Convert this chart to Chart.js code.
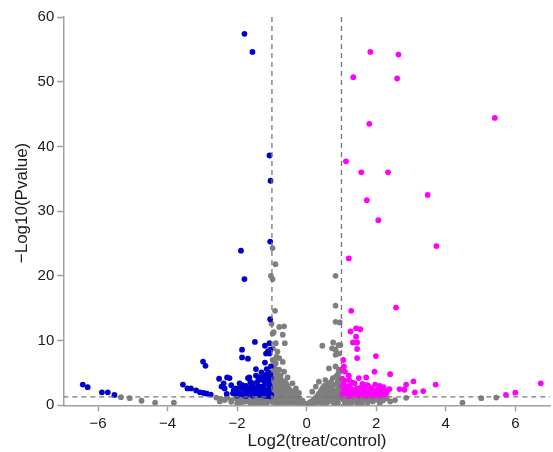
<!DOCTYPE html>
<html>
<head>
<meta charset="utf-8">
<script src="https://cdn.jsdelivr.net/npm/chart.js@4"></script>
<style>
  body { margin: 0; background: #fff; }
  canvas { display: block; }
</style>
</head>
<body>
<canvas id="volcano" width="553" height="452"></canvas>
<script>
// ejes
const xTicks = [-6, -4, -2, 0, 2, 4, 6];
const yTicks = [0, 10, 20, 30, 40, 50, 60];
const xTitle = "Log2(treat/control)";
const yTitle = "\u2212Log10(Pvalue)";

// lineas de corte
const foldCut = 1;
const pCut = 1.3;

// genes bajos (azul) [log2FC, -log10 p]
const downPoints = [
  [-1.79, 57.4], [-1.56, 54.6], [-1.07, 38.6], [-1.04, 34.7], [-1.05, 25.3], [-1.89, 23.9],
  [-1.79, 19.5], [-1.05, 13.3], [-1.49, 9.8], [-1.2, 9.2], [-1.05, 8.6], [-1.86, 8.6],
  [-1.07, 8.0], [-1.17, 8.0], [-1.86, 7.4], [-1.69, 7.2], [-2.98, 6.75], [-2.91, 6.1],
  [-1.2, 6.6], [-1.46, 5.6], [-1.09, 5.1], [-1.12, 4.4], [-1.65, 4.3], [-1.38, 4.3],
  [-1.27, 3.9], [-2.29, 4.3], [-2.22, 4.2], [-2.52, 4.1], [-2.39, 3.4], [-2.36, 2.6],
  [-2.17, 3.1], [-1.93, 3.4], [-2.03, 2.6], [-1.89, 2.8], [-1.74, 3.0], [-1.55, 3.4],
  [-1.46, 4.6], [-1.27, 4.6], [-2.12, 1.85], [-1.98, 2.1], [-1.79, 2.4], [-1.65, 2.4],
  [-1.5, 2.4], [-1.31, 2.6], [-1.12, 2.4], [-1.07, 3.1], [-1.89, 1.75], [-1.69, 1.75],
  [-1.46, 1.85], [-1.27, 1.75], [-1.09, 1.75], [-2.0, 1.5], [-1.55, 1.5], [-1.22, 1.5],
  [-1.6, 2.9], [-1.41, 2.2], [-1.69, 2.0], [-1.69, 4.2], [-1.4, 3.0], [-1.2, 3.3],
  [-1.15, 2.0], [-1.8, 1.6], [-1.35, 1.6], [-1.05, 2.7], [-1.1, 3.7], [-1.6, 1.9],
  [-1.3, 2.1], [-1.07, 9.6], [-1.12, 8.3], [-1.03, 6.0], [-1.15, 5.6], [-1.05, 4.8],
  [-1.25, 4.0], [-1.03, 4.2], [-1.18, 3.6], [-1.08, 2.2], [-1.25, 2.9], [-1.02, 1.6],
  [-1.15, 1.45], [-1.95, 2.4], [-1.85, 3.1], [-1.75, 2.2], [-1.62, 3.6], [-1.52, 2.7],
  [-1.42, 3.6], [-1.33, 2.9], [-1.22, 2.3], [-1.12, 1.9], [-1.05, 1.4], [-1.35, 1.9],
  [-1.5, 2.0], [-1.75, 1.45], [-1.95, 1.75], [-1.18, 4.7], [-1.3, 5.1], [-2.1, 2.3],
  [-2.3, 1.75], [-2.45, 2.9],
  [-6.44, 3.2], [-6.3, 2.8], [-5.89, 2.0], [-5.72, 2.0], [-5.53, 1.6], [-3.56, 3.2],
  [-3.43, 2.6], [-3.33, 2.6], [-3.18, 2.3], [-3.07, 2.0], [-2.96, 1.9], [-2.87, 1.8],
  [-2.76, 1.65]
];

// genes altos (magenta)
const upPoints = [
  [1.83, 54.6], [2.64, 54.2], [1.34, 50.7], [2.6, 50.5], [5.41, 44.4], [1.8, 43.5],
  [1.13, 37.7], [1.57, 36.0], [2.34, 36.0], [3.48, 32.5], [1.73, 31.7], [2.06, 28.6],
  [3.73, 24.6], [1.21, 22.7], [1.28, 14.6], [2.57, 15.1], [1.42, 11.9], [1.54, 11.75],
  [1.26, 11.4], [1.42, 10.6], [1.33, 9.7], [1.45, 9.7], [1.45, 8.7], [1.45, 7.3],
  [1.99, 7.6], [1.05, 7.0], [1.07, 6.0], [1.95, 5.2], [2.4, 4.8], [1.21, 4.6],
  [1.02, 4.1], [1.5, 4.2], [1.71, 4.3], [1.31, 3.5], [3.07, 3.7], [3.71, 3.2],
  [2.86, 3.2], [2.67, 2.5], [2.81, 2.4], [3.11, 2.0], [3.35, 2.2], [1.97, 3.2],
  [1.78, 2.9], [2.21, 2.8], [2.38, 2.5], [2.07, 2.5], [2.16, 2.1], [1.93, 2.3],
  [1.64, 2.4], [1.45, 2.6], [1.31, 2.4], [1.16, 2.8], [1.07, 2.4], [1.11, 1.9],
  [1.26, 1.75], [1.4, 1.9], [1.54, 1.95], [1.73, 1.9], [1.83, 1.6], [2.02, 1.75],
  [2.21, 1.6], [1.02, 1.6], [1.21, 1.45], [1.5, 1.5], [1.69, 1.45], [6.73, 3.4],
  [6.0, 1.95], [5.73, 1.6], [1.38, 3.4], [1.75, 3.1], [1.05, 3.3], [1.2, 3.0],
  [1.6, 3.3], [1.1, 5.2], [1.02, 5.6], [2.3, 1.9], [1.9, 1.45], [1.35, 2.1],
  [1.15, 2.2], [2.1, 3.0], [1.05, 1.9], [1.18, 1.7], [1.3, 1.5], [1.45, 1.7],
  [1.6, 1.65], [1.8, 2.2], [1.95, 1.6], [2.1, 1.45], [1.12, 2.5], [1.25, 2.7],
  [1.4, 2.3], [1.55, 2.7], [1.68, 3.1], [1.85, 2.6], [2.0, 2.1], [2.25, 2.2],
  [1.08, 3.8], [1.22, 3.9], [1.02, 2.9]
];

// genes sin cambio (gris)
const nsPoints = [
  [-0.98, 24.3], [-0.9, 21.8], [-1.03, 20.0], [-0.98, 19.5], [-0.91, 14.6], [-1.01, 12.6],
  [-0.95, 11.3], [-0.98, 11.1], [-0.79, 12.1], [-0.65, 12.2], [-0.69, 10.9], [-0.63, 9.6],
  [-0.89, 9.6], [-0.84, 8.3], [-0.79, 7.3], [-0.69, 6.7], [-0.89, 6.5], [-0.79, 5.5],
  [-0.65, 5.2], [-0.55, 4.3], [-0.41, 3.4], [-0.31, 2.6], [-0.22, 1.9],
  [0.83, 20.0], [0.83, 15.4], [0.83, 12.9], [0.95, 12.8], [0.45, 9.2], [0.76, 9.7],
  [0.91, 9.3], [0.73, 8.8], [0.83, 8.6], [0.83, 7.8], [0.93, 8.0], [0.64, 5.7],
  [0.83, 6.0], [0.9, 4.8], [0.35, 3.65], [0.26, 2.9], [0.16, 2.1], [0.54, 3.9],
  [0.97, 9.3],
  [-0.95, 5.0], [-0.9, 4.5], [-0.85, 4.0], [-0.75, 4.6], [-0.7, 3.8], [-0.6, 3.5],
  [-0.95, 3.6], [-0.85, 3.2], [-0.75, 3.0], [-0.65, 2.8], [-0.55, 3.0], [-0.5, 2.5],
  [-0.45, 2.2], [-0.95, 2.5], [-0.88, 2.2], [-0.8, 2.0], [-0.7, 2.3], [-0.6, 2.0],
  [-0.5, 1.8], [-0.4, 1.6], [-0.35, 2.0], [-0.3, 1.5], [-0.25, 1.2], [-0.95, 1.6],
  [-0.85, 1.4], [-0.75, 1.5], [-0.65, 1.3], [-0.55, 1.2], [-0.45, 1.0], [-0.35, 0.9],
  [-0.2, 0.8], [-0.15, 0.5], [-0.1, 0.4], [-0.05, 0.2], [0, 0.1], [0.05, 0.3],
  [0.1, 0.5], [0.15, 0.6], [0.2, 0.9], [0.25, 1.1], [0.3, 1.4], [0.35, 1.8],
  [0.4, 2.2], [0.45, 2.6], [0.5, 3.0], [0.55, 2.4], [0.6, 3.3], [0.65, 2.8],
  [0.7, 3.6], [0.75, 4.2], [0.8, 3.2], [0.85, 4.5], [0.9, 3.8], [0.95, 5.2],
  [0.95, 3.0], [0.9, 2.5], [0.8, 2.2], [0.7, 2.0], [0.6, 1.8], [0.5, 1.6],
  [0.4, 1.3], [0.3, 0.9], [0.9, 1.7], [0.8, 1.4], [0.7, 1.2], [0.6, 1.0],
  [0.5, 0.8], [0.4, 0.6], [0.3, 0.4], [0.2, 0.3], [-0.3, 0.4], [-0.4, 0.6],
  [-0.5, 0.7], [-0.6, 0.8], [-0.7, 0.9], [-0.8, 1.0], [-0.9, 1.1], [-0.6, 0.4],
  [-0.8, 0.5], [-0.9, 0.3], [0.6, 0.5], [0.8, 0.6], [0.9, 0.4], [-0.2, 0.2],
  [0.1, 0.15], [-0.92, 5.8], [-0.85, 5.3], [-0.97, 4.2], [-0.82, 3.6], [-0.72, 3.3],
  [-0.62, 2.5], [-0.98, 7.0], [-0.93, 6.9], [-0.87, 7.5], [-0.97, 8.8], [-0.92, 3.0],
  [-0.78, 2.6], [-0.68, 1.7], [-0.58, 1.5], [-0.48, 1.4], [-0.38, 1.2], [-0.28, 1.0],
  [-0.18, 0.6], [-0.08, 0.3], [0.08, 0.25], [0.18, 0.45], [0.28, 0.7], [0.38, 1.0],
  [0.48, 1.2], [0.58, 1.4], [0.68, 1.6], [0.78, 1.8], [0.88, 2.0], [0.98, 2.3],
  [0.98, 1.2], [0.88, 0.9], [0.78, 0.3], [0.68, 0.7], [0.55, 0.2], [0.45, 0.3],
  [-0.45, 0.3], [-0.55, 0.5], [-0.65, 0.6], [-0.75, 0.2], [-0.85, 0.8], [-0.95, 0.6],
  [-0.98, 0.9], [-0.92, 1.9], [-0.82, 2.8], [-0.78, 3.9], [-0.88, 4.8], [-0.98, 3.2],
  [0.98, 4.0], [0.92, 5.5], [0.88, 3.4], [0.72, 2.6], [0.62, 2.3], [0.52, 1.9],
  [0.42, 1.6], [0.32, 1.2], [0.22, 0.7], [-0.12, 0.7], [-0.22, 1.1], [-0.32, 1.4],
  [-0.42, 1.8], [-0.52, 2.1], [-0.62, 2.9], [-0.72, 2.6],
  [-2.6, 1.2], [-2.46, 1.0], [-2.36, 0.8], [-2.17, 0.55], [-2.17, 0.8], [-1.98, 0.9],
  [-1.9, 0.4], [-1.79, 0.55], [-1.7, 1.1], [-1.6, 0.8], [-1.5, 0.3], [-1.41, 0.5],
  [-1.35, 1.0], [-1.22, 0.8], [-1.15, 0.3], [-1.1, 1.1], [-1.05, 0.6], [-1.3, 0.15],
  [-1.6, 0.2], [-2.0, 0.3], [-1.85, 1.2], [-1.45, 1.25], [-1.2, 1.2], [-2.3, 1.15],
  [-2.05, 1.1], [-1.55, 0.95], [-1.25, 0.5], [-1.65, 0.5], [-1.95, 0.6], [-1.75, 0.9],
  [-1.55, 0.6], [-1.35, 0.4], [-1.15, 0.9], [-1.05, 1.2], [-2.5, 0.6],
  [1.05, 0.9], [1.1, 0.3], [1.16, 0.8], [1.2, 1.2], [1.3, 0.5], [1.35, 1.0],
  [1.45, 0.2], [1.5, 0.7], [1.59, 0.05], [1.64, 0.8], [1.7, 1.1], [1.75, 0.4],
  [1.83, 1.0], [1.9, 0.6], [2.02, 0.9], [2.1, 0.3], [2.16, 0.7], [2.21, 0.8],
  [2.3, 1.1], [2.54, 0.8], [2.86, 1.15], [1.25, 0.2], [1.4, 1.2], [1.55, 1.2],
  [2.0, 1.2], [1.15, 0.5], [1.35, 0.7], [1.55, 0.9], [1.75, 0.7], [1.95, 1.0],
  [2.4, 0.6],
  [-5.34, 1.25], [-5.09, 1.1], [-4.75, 0.7], [-4.36, 0.4], [-3.82, 0.4], [4.48, 0.4],
  [5.02, 1.1], [5.45, 1.2]
];

const toXY = (arr) => arr.map((p) => ({ x: p[0], y: p[1] }));

// lineas punteadas y titulos de ejes
const cortes = {
  id: "cortes",
  afterDatasetsDraw(chart) {
    const { ctx, scales } = chart;
    const x = scales.x;
    const y = scales.y;
    ctx.save();
    ctx.strokeStyle = "#757575";
    ctx.lineWidth = 1.3;
    ctx.setLineDash([5, 4]);
    [-foldCut, foldCut].forEach((v) => {
      const px = x.getPixelForValue(v);
      ctx.beginPath();
      ctx.moveTo(px, y.getPixelForValue(60));
      ctx.lineTo(px, y.getPixelForValue(0));
      ctx.stroke();
    });
    const py = y.getPixelForValue(pCut);
    ctx.beginPath();
    ctx.moveTo(x.left, py);
    ctx.lineTo(x.right, py);
    ctx.stroke();
    ctx.restore();

    ctx.save();
    ctx.fillStyle = "#1a1a1a";
    ctx.font = "17px 'Liberation Sans', Arial, sans-serif";
    ctx.textAlign = "center";
    ctx.textBaseline = "middle";
    ctx.fillText(xTitle, 317, 441);
    ctx.translate(22, 203);
    ctx.rotate(-Math.PI / 2);
    ctx.fillText(yTitle, 0, 0);
    ctx.restore();
  },
};

const axisGray = "#a0a0a0";
const menos = (v) => (v < 0 ? "\u2212" + Math.abs(v) : String(v));

new Chart(document.getElementById("volcano"), {
  type: "scatter",
  data: {
    datasets: [
      { label: "up", data: toXY(upPoints), backgroundColor: "#ff00ff" },
      { label: "down", data: toXY(downPoints), backgroundColor: "#0000cd" },
      { label: "ns", data: toXY(nsPoints), backgroundColor: "#7f7f7f" },
    ],
  },
  options: {
    responsive: false,
    animation: false,
    devicePixelRatio: 1,
    layout: { padding: { top: 17, right: 0, left: 0, bottom: 0 } },
    elements: { point: { radius: 2.9, borderWidth: 0, hoverRadius: 2.9 } },
    plugins: { legend: { display: false }, tooltip: { enabled: false } },
    scales: {
      x: {
        type: "linear",
        min: -7,
        max: 7,
        afterBuildTicks: (s) => { s.ticks = xTicks.map((v) => ({ value: v })); },
        afterFit: (s) => { s.height = 46.7; },
        border: { display: true, color: axisGray, width: 1.5 },
        grid: { drawOnChartArea: false, drawTicks: true, tickLength: 6, tickColor: axisGray, tickWidth: 1.5 },
        ticks: { color: "#1a1a1a", padding: 4, callback: menos, font: { size: 15, family: "'Liberation Sans', Arial, sans-serif" } },
      },
      y: {
        type: "linear",
        min: 0,
        max: 60,
        afterBuildTicks: (s) => { s.ticks = yTicks.map((v) => ({ value: v })); },
        afterFit: (s) => { s.width = 63.3; },
        border: { display: true, color: axisGray, width: 1.5 },
        grid: { drawOnChartArea: false, drawTicks: true, tickLength: 6, tickColor: axisGray, tickWidth: 1.5 },
        ticks: { color: "#1a1a1a", padding: 3, font: { size: 15, family: "'Liberation Sans', Arial, sans-serif" } },
      },
    },
  },
  plugins: [cortes],
});
</script>
</body>
</html>
